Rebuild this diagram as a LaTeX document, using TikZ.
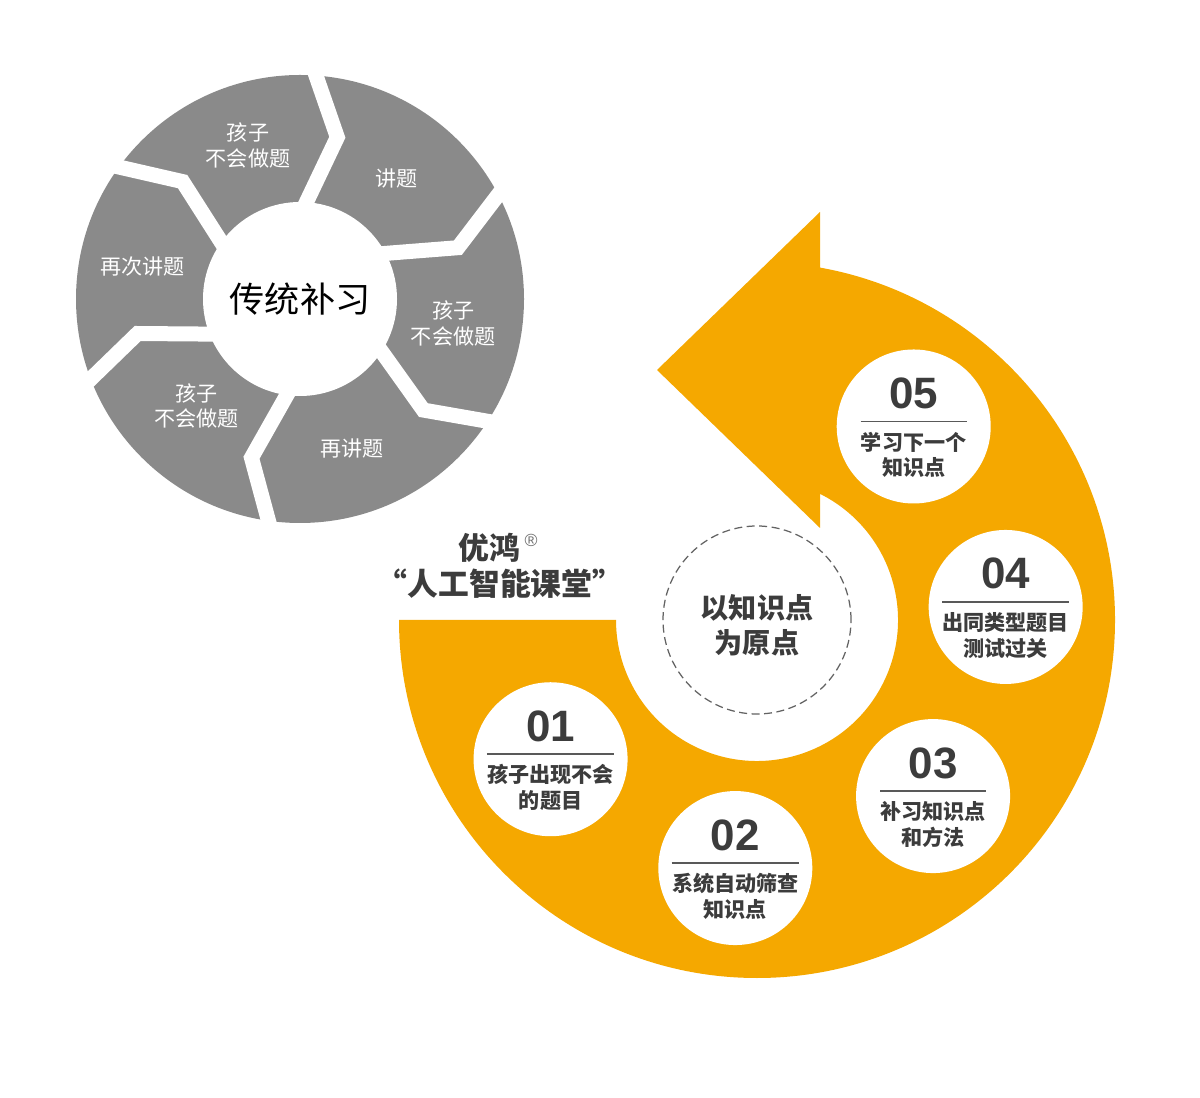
\documentclass[tikz,border=0pt]{standalone}
\usepackage{fontspec}
\setmainfont{Noto Sans CJK SC}
\newfontfamily\numfont{Liberation Sans}
\usetikzlibrary{positioning}
\definecolor{wheelgray}{RGB}{138,138,138}
\definecolor{amber}{RGB}{245,168,0}
\definecolor{ink}{RGB}{60,60,60}

\begin{document}
\begin{tikzpicture}[
  x=0.2mm,
  y=0.2mm,
  gap/.style={
    white,
    line width=3mm,
    line join=miter
  },
  seglabel/.style={
    text=white,
    font=\fontsize{12}{14.5}\selectfont,
    align=center
  },
  hub/.style={
    circle,
    fill=white,
    minimum size=38.8mm,
    inner sep=0pt
  },
  badge/.style={
    circle,
    fill=white,
    minimum size=30.8mm,
    inner sep=0pt
  },
  digits/.style={
    font=\numfont\bfseries\fontsize{25}{25}\selectfont,
    text=ink,
    inner sep=0pt,
    anchor=base
  },
  caption/.style={
    font=\bfseries\fontsize{12}{14.7}\selectfont,
    text=ink,
    align=center,
    inner sep=0pt,
    anchor=north
  },
  rule/.style={draw=ink!85, line width=0.3mm}
]
  \useasboundingbox (0,0) rectangle (1200,1097);
  \coordinate (wc) at (300,798);
  \coordinate (sc) at (757,477);

  \fill[wheelgray] (wc) circle[radius=224];
  \draw[gap] ([shift={(wc)}]88:245) -- ([shift={(wc)}]77:166) -- ([shift={(wc)}]88:90);
  \draw[gap] ([shift={(wc)}]30:245) -- ([shift={(wc)}]18:166) -- ([shift={(wc)}]30:90);
  \draw[gap] ([shift={(wc)}]-31:245) -- ([shift={(wc)}]-42:166) -- ([shift={(wc)}]-31:90);
  \draw[gap] ([shift={(wc)}]-96:245) -- ([shift={(wc)}]-107:166) -- ([shift={(wc)}]-96:90);
  \draw[gap] ([shift={(wc)}]203:245) -- ([shift={(wc)}]192:166) -- ([shift={(wc)}]203:90);
  \draw[gap] ([shift={(wc)}]146:245) -- ([shift={(wc)}]135:166) -- ([shift={(wc)}]146:90);
  \node[hub] (trad) at (wc) {\fontsize{20}{24}\selectfont 传统补习};

  \node[seglabel] (s1) at ([shift={(wc)}]108.7:162) {孩子\\不会做题};
  \node[seglabel] (s2) at ([shift={(wc)}]51.3:155) {讲题};
  \node[seglabel] (s3) at ([shift={(wc)}]-9:155) {孩子\\不会做题};
  \node[seglabel] (s4) at ([shift={(wc)}]-70.8:158) {再讲题};
  \node[seglabel] (s5) at ([shift={(wc)}]226:149) {孩子\\不会做题};
  \node[seglabel] (s6) at ([shift={(wc)}]168.5:161) {再次讲题};

  \fill[amber] ([shift={(sc)}]180:358) arc[start angle=180, end angle=439.86, radius=358]
    -- (820,885) -- (657,727) -- (820,569)
    -- ([shift={(sc)}]63.46:141) arc[start angle=423.46, end angle=180, radius=141] -- cycle;

  \draw[ink!80, line width=0.25mm, dash pattern=on 1.6mm off 0.9mm] (sc) circle[radius=94];
  \node[font=\bfseries\fontsize{16}{20}\selectfont, text=ink, align=center] (origin)
    at ([yshift=-1mm]sc) {以知识点\\为原点};

  \node[font=\bfseries\fontsize{17.5}{21}\selectfont, text=ink] (brand) at (489,549) {优鸿};
  \node[font=\numfont\fontsize{10}{10}\selectfont, text=ink!75, inner sep=0pt] (reg) at (531,557) {®};
  \node[font=\bfseries\fontsize{17.5}{21}\selectfont, text=ink] (slogan) at (500,513) {“人工智能课堂”};

  \node[badge] (b1) at ([shift={(sc)}]214:249) {};
  \node[digits] (n1) at ([yshift=3.6mm]b1.center) {01};
  \node[caption] (t1) at ([yshift=-1mm]b1.center) {孩子出现不会\\的题目};
  \draw[rule] ([yshift=2mm]t1.north west) -- ([yshift=2mm]t1.north east);

  \node[badge] (b2) at ([shift={(sc)}]265:249) {};
  \node[digits] (n2) at ([yshift=3.6mm]b2.center) {02};
  \node[caption] (t2) at ([yshift=-1mm]b2.center) {系统自动筛查\\知识点};
  \draw[rule] ([yshift=2mm]t2.north west) -- ([yshift=2mm]t2.north east);

  \node[badge] (b3) at ([shift={(sc)}]315:249) {};
  \node[digits] (n3) at ([yshift=3.6mm]b3.center) {03};
  \node[caption] (t3) at ([yshift=-1mm]b3.center) {补习知识点\\和方法};
  \draw[rule] ([yshift=2mm]t3.north west) -- ([yshift=2mm]t3.north east);

  \node[badge] (b4) at ([shift={(sc)}]3:249) {};
  \node[digits] (n4) at ([yshift=3.6mm]b4.center) {04};
  \node[caption] (t4) at ([yshift=-1mm]b4.center) {出同类型题目\\测试过关};
  \draw[rule] ([yshift=2mm]t4.north west) -- ([yshift=2mm]t4.north east);

  \node[badge] (b5) at ([shift={(sc)}]51:249) {};
  \node[digits] (n5) at ([yshift=3.6mm]b5.center) {05};
  \node[caption] (t5) at ([yshift=-1mm]b5.center) {学习下一个\\知识点};
  \draw[rule] ([yshift=2mm]t5.north west) -- ([yshift=2mm]t5.north east);
\end{tikzpicture}
\end{document}
